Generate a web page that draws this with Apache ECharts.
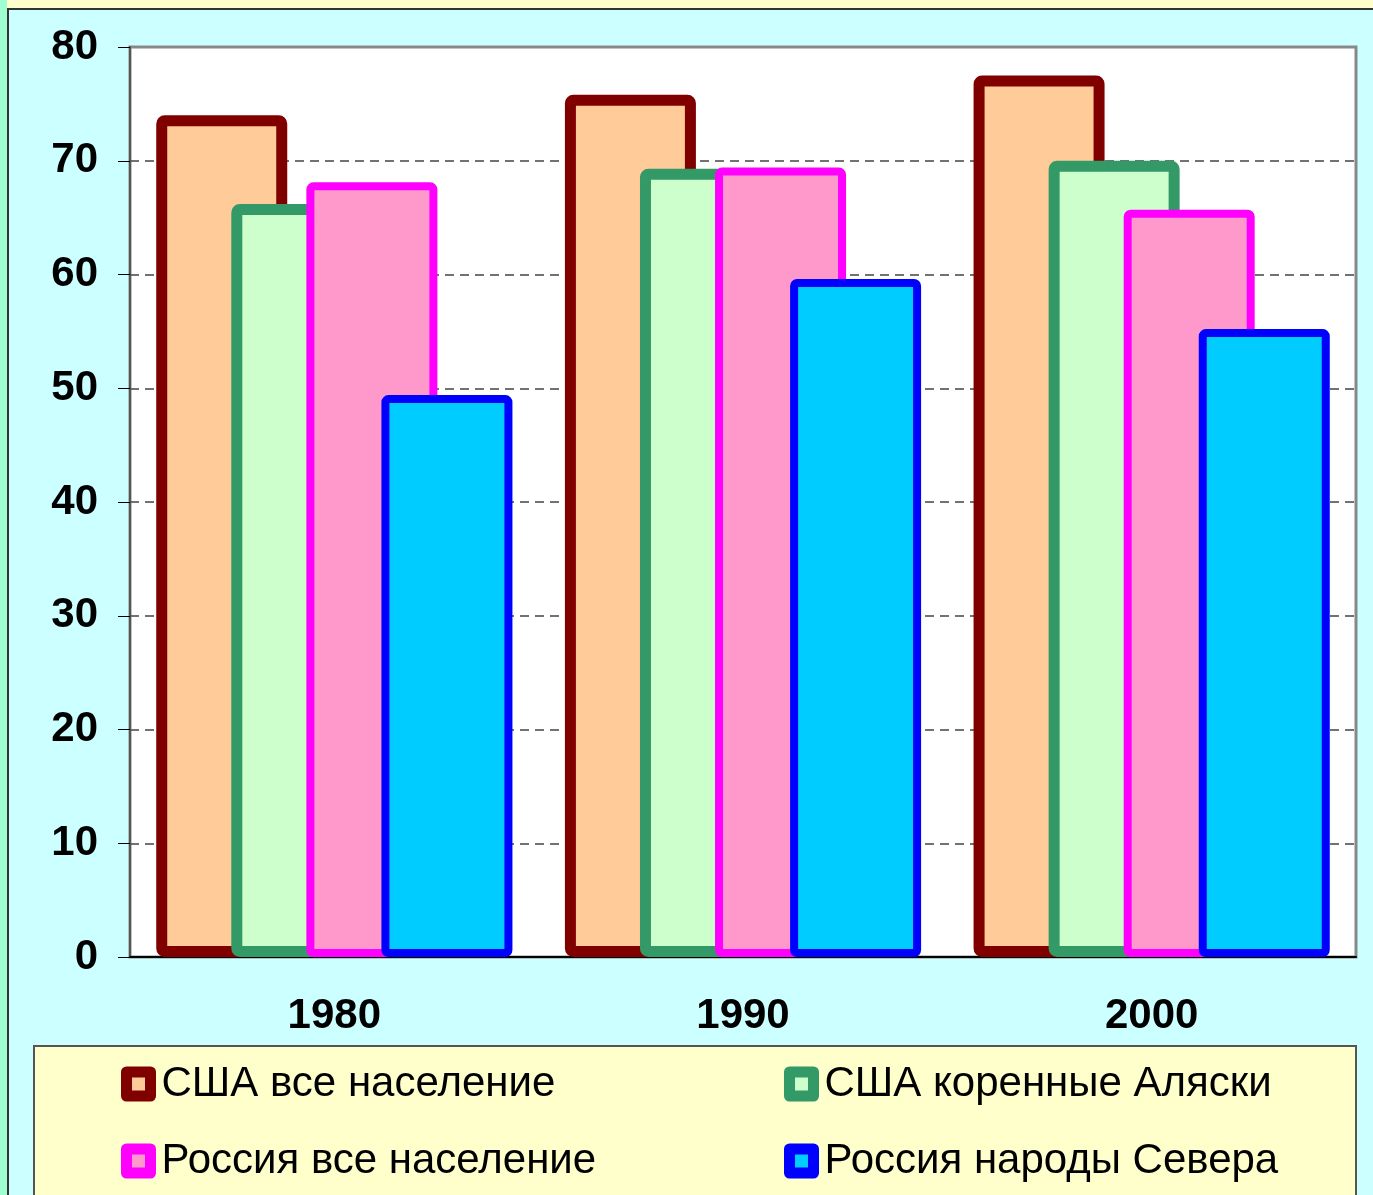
<!DOCTYPE html>
<html>
<head>
<meta charset="utf-8">
<script src="https://cdn.jsdelivr.net/npm/echarts@6/dist/echarts.min.js"></script>
<style>
  html, body { margin: 0; padding: 0; background: #ffffcc; }
  #chart { width: 1373px; height: 1195px; }
</style>
</head>
<body>
<div id="chart"></div>
<script>
// данные
var years = ['1980', '1990', '2000'];
var seriesNames = ['США все население', 'США коренные Аляски', 'Россия все население', 'Россия народы Севера'];
var usaAll = [74.0, 75.8, 77.5];
var usaAlaska = [66.2, 69.3, 70.0];
var rusAll = [68.1, 69.4, 65.7];
var rusNorth = [49.4, 59.6, 55.2];
var yTicks = [0, 10, 20, 30, 40, 50, 60, 70, 80];

var fills = ['#ffcc99', '#ccffcc', '#ff99cc', '#00ccff'];
var borders = ['#800000', '#339966', '#ff00ff', '#0000ff'];
var borderW = [11, 11, 8, 8];
var values = [usaAll, usaAlaska, rusAll, rusNorth];

var myChart = echarts.init(document.getElementById('chart'));

var series = [];
for (var i = 0; i < 4; i++) {
    series.push({
        name: seriesNames[i],
        type: 'bar',
        barWidth: 131,
        barGap: '-42.7%',
        itemStyle: {
            color: fills[i],
            borderColor: borders[i],
            borderWidth: borderW[i],
            borderRadius: 3
        },
        data: values[i]
    });
}

var legendText = {
    fontSize: 42,
    fontFamily: 'Liberation Sans, Arial, sans-serif',
    color: '#000',
    padding: [0, 0, 0, 6]
};

// легенда в две колонки
function makeLegend(left, names) {
    return {
        orient: 'vertical',
        left: left,
        top: 1058,
        itemWidth: 24,
        itemHeight: 24,
        itemGap: 35,
        icon: 'rect',
        itemStyle: { borderWidth: 11, borderJoin: 'round' },
        textStyle: legendText,
        data: names
    };
}

var option = {
    backgroundColor: '#ffffcc',
    animation: false,
    graphic: [
        { type: 'rect', z: -10, shape: { x: 0, y: 0, width: 7, height: 1195 }, style: { fill: '#a0ffd0' } },
        { type: 'rect', z: -9, shape: { x: 8, y: 9, width: 1380, height: 1200 }, style: { fill: '#ccffff', stroke: '#333', lineWidth: 2 } },
        { type: 'rect', z: 1, shape: { x: 34, y: 1046, width: 1322, height: 170 }, style: { fill: '#ffffcc', stroke: '#555', lineWidth: 2 } }
    ],
    grid: {
        left: 130,
        top: 47,
        right: 17,
        bottom: 238,
        show: true,
        backgroundColor: '#fff',
        borderColor: '#888',
        borderWidth: 3
    },
    legend: [
        makeLegend(116, [seriesNames[0], seriesNames[2]]),
        makeLegend(779, [seriesNames[1], seriesNames[3]])
    ],
    xAxis: {
        type: 'category',
        data: years,
        axisLine: { lineStyle: { color: '#000', width: 2 } },
        axisTick: { length: 12, lineStyle: { color: '#444', width: 1 } },
        axisLabel: {
            margin: 38,
            fontSize: 42,
            fontWeight: 'bold',
            fontFamily: 'Liberation Sans, Arial, sans-serif',
            color: '#000'
        }
    },
    yAxis: {
        type: 'value',
        min: yTicks[0],
        max: yTicks[yTicks.length - 1],
        interval: 10,
        axisLine: { show: true, lineStyle: { color: '#555', width: 2 } },
        axisTick: { show: true, length: 12, lineStyle: { color: '#000', width: 1 } },
        axisLabel: {
            margin: 32,
            fontSize: 42,
            fontWeight: 'bold',
            fontFamily: 'Liberation Sans, Arial, sans-serif',
            color: '#000'
        },
        splitLine: {
            showMinLine: false,
            showMaxLine: false,
            lineStyle: { color: '#444', width: 1.5, type: [9, 6] }
        }
    },
    series: series
};

myChart.setOption(option);
</script>
</body>
</html>
